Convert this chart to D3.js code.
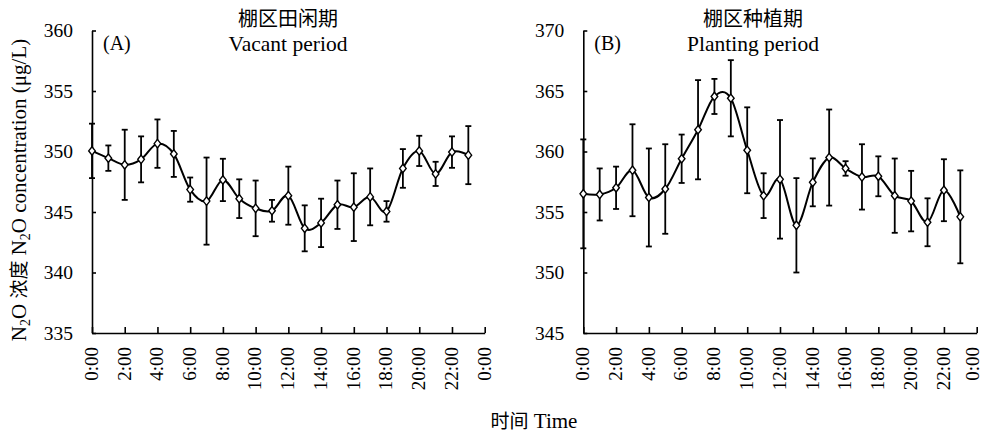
<!DOCTYPE html>
<html>
<head>
<meta charset="utf-8">
<script src="https://cdn.jsdelivr.net/npm/d3@7"></script>
<style>
  html, body { margin: 0; padding: 0; background: #fff; }
  svg { display: block; }
  text { font-family: "Liberation Serif", "Times New Roman", "Noto Sans CJK SC", serif; fill: #000; }
  .cjk { font-family: "Noto Sans CJK SC", sans-serif; }
</style>
</head>
<body>
<svg id="chart" width="985" height="435"></svg>
<script>
// ---- Data ----
const hours = d3.range(0, 24); // 0:00 ... 23:00
const tickHours = [0, 2, 4, 6, 8, 10, 12, 14, 16, 18, 20, 22, 24];
const tickLabels = ["0:00","2:00","4:00","6:00","8:00","10:00","12:00","14:00","16:00","18:00","20:00","22:00","0:00"];

// (A) Vacant period
const vacantMean = [350.05, 349.45, 348.9, 349.35, 350.65, 349.8, 346.85, 345.9, 347.65, 346.1, 345.3, 345.1,
                    346.35, 343.65, 344.1, 345.6, 345.4, 346.25, 345.05, 348.6, 350.05, 348.15, 349.95, 349.7];
const vacantErr  = [2.25, 1.05, 2.9, 1.9, 2.0, 1.9, 1.0, 3.6, 1.75, 1.6, 2.3, 0.9,
                    2.4, 1.9, 2.0, 2.0, 2.8, 2.35, 0.85, 1.6, 1.25, 1.0, 1.3, 2.4];
const vacantTicks = [335, 340, 345, 350, 355, 360];

// (B) Planting period
const plantMean = [356.5, 356.45, 357.0, 358.45, 356.2, 356.9, 359.4, 361.8, 364.55, 364.4, 360.1, 356.35,
                   357.7, 353.9, 357.45, 359.5, 358.6, 357.9, 357.95, 356.35, 355.9, 354.15, 356.8, 354.6];
const plantErr  = [4.5, 2.15, 1.75, 3.8, 4.05, 3.7, 2.0, 4.1, 1.45, 3.15, 3.55, 1.85,
                   4.9, 3.9, 1.98, 3.97, 0.6, 2.7, 1.65, 3.07, 2.5, 1.98, 2.56, 3.84];
const plantTicks = [345, 350, 355, 360, 365, 370];

const panels = [
  { id: "A", tag: "(A)", cn: "棚区田闲期", en: "Vacant period", mean: vacantMean, err: vacantErr,
    yDomain: [335, 360], yTicks: vacantTicks, x0: 92, x1: 484.7, titleX: 288 },
  { id: "B", tag: "(B)", cn: "棚区种植期", en: "Planting period", mean: plantMean, err: plantErr,
    yDomain: [345, 370], yTicks: plantTicks, x0: 583.3, x1: 976.7, titleX: 753 }
];

const svg = d3.select("#chart");
const yTop = 30.5, yBot = 333;

panels.forEach((p, pi) => {
  const x = d3.scaleLinear().domain([0, 24]).range([p.x0, p.x1]);
  const y = d3.scaleLinear().domain(p.yDomain).range([yBot, yTop]);
  const g = svg.append("g");

  // Y axis
  const ya = g.append("g").attr("transform", `translate(${p.x0},0)`)
    .call(d3.axisLeft(y).tickValues(p.yTicks).tickSize(-4).tickSizeOuter(0).tickPadding(19).tickFormat(d3.format("d")));
  ya.selectAll("path, line").attr("stroke", "#000").attr("stroke-width", 1.6);
  ya.selectAll("text").attr("font-size", 19.5).attr("font-family", "Liberation Serif, serif");

  // X axis
  const xa = g.append("g").attr("transform", `translate(0,${yBot})`)
    .call(d3.axisBottom(x).tickValues(tickHours).tickSize(-6).tickSizeOuter(0)
      .tickFormat((d, i) => tickLabels[i]));
  xa.selectAll("path, line").attr("stroke", "#000").attr("stroke-width", 1.6);
  const last = tickHours.length - 1;
  xa.selectAll("text")
    .attr("font-size", 19).attr("font-family", "Liberation Serif, serif")
    .attr("transform", "rotate(-90)")
    .attr("text-anchor", "end")
    .attr("x", -14).attr("y", 0)
    .attr("dy", (d, i) => (pi === 1 && i === last) ? "0.12em" : "0.28em");

  // Error bars
  const eb = g.append("g").attr("stroke", "#000").attr("stroke-width", 1.8);
  hours.forEach(h => {
    const cx = x(h), lo = y(p.mean[h] - p.err[h]), hi = y(p.mean[h] + p.err[h]);
    eb.append("line").attr("x1", cx).attr("x2", cx).attr("y1", lo).attr("y2", hi);
    eb.append("line").attr("x1", cx - 3).attr("x2", cx + 3).attr("y1", lo).attr("y2", lo);
    eb.append("line").attr("x1", cx - 3).attr("x2", cx + 3).attr("y1", hi).attr("y2", hi);
  });

  // Smoothed line
  const line = d3.line().x(h => x(h)).y(h => y(p.mean[h])).curve(d3.curveCardinal.tension(0));
  g.append("path").datum(hours).attr("d", line)
    .attr("fill", "none").attr("stroke", "#000").attr("stroke-width", 2);

  // Diamond markers
  g.append("g").selectAll("path").data(hours).join("path")
    .attr("d", h => {
      const cx = x(h), cy = y(p.mean[h]);
      return `M${cx},${cy - 4.2}L${cx + 3.3},${cy}L${cx},${cy + 4.2}L${cx - 3.3},${cy}Z`;
    })
    .attr("fill", "#fff").attr("stroke", "#000").attr("stroke-width", 1.4);

  // Panel labels and titles
  g.append("text").attr("x", p.x0 + 11).attr("y", 50).attr("font-size", 20).text(p.tag);
  g.append("text").attr("class", "cjk").attr("x", p.titleX).attr("y", 26).attr("text-anchor", "middle")
    .attr("font-size", 20).text(p.cn);
  g.append("text").attr("x", p.titleX).attr("y", 51).attr("text-anchor", "middle")
    .attr("font-size", 21.5).text(p.en);
});

// Y axis title
const yt = svg.append("text")
  .attr("transform", "translate(26,190) rotate(-90)")
  .attr("text-anchor", "middle")
  .attr("font-size", 21);
yt.append("tspan").text("N");
yt.append("tspan").attr("font-size", 14).attr("dy", 4).text("2");
yt.append("tspan").attr("dy", -4).text("O ");
yt.append("tspan").attr("class", "cjk").attr("font-size", 19).text("浓度");
yt.append("tspan").text(" N");
yt.append("tspan").attr("font-size", 14).attr("dy", 4).text("2");
yt.append("tspan").attr("dy", -4).text("O concentration (μg/L)");

// X axis title
const xt = svg.append("text").attr("x", 534).attr("y", 428).attr("text-anchor", "middle").attr("font-size", 21);
xt.append("tspan").attr("class", "cjk").attr("font-size", 19).text("时间");
xt.append("tspan").text(" Time");
</script>
</body>
</html>
